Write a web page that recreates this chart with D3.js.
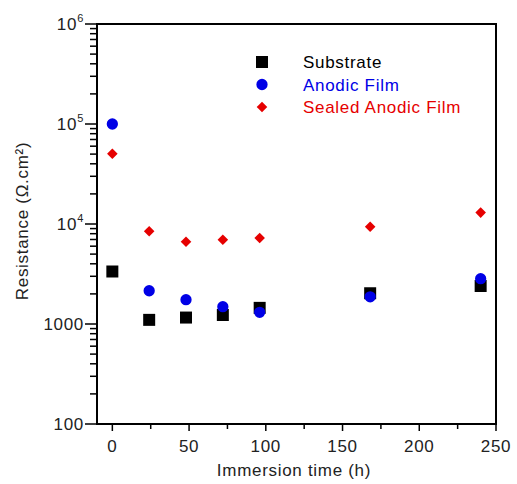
<!DOCTYPE html>
<html lang="en">
<head>
<meta charset="UTF-8">
<title>Resistance vs immersion time</title>
<style>
  body { margin: 0; background: #fff; }
  text { font-family: "Liberation Sans", Arial, sans-serif; letter-spacing: 0.7px; }
</style>
</head>
<body>
<svg id="chart" width="517" height="484"></svg>
<script src="https://cdn.jsdelivr.net/npm/d3@7"></script>
<script>
/* global d3 */

// data
var hours = [0, 24, 48, 72, 96, 168, 240];
var substrate = [3350, 1100, 1160, 1230, 1450, 2030, 2400];
var anodicFilm = [100000, 2150, 1750, 1490, 1310, 1870, 2840];
var sealedFilm = [50500, 8450, 6650, 6970, 7250, 9400, 13000];

var xTicks = [0, 50, 100, 150, 200, 250];
var xMinorTicks = [25, 75, 125, 175, 225];
var yTicks = [100, 1000, 1e4, 1e5, 1e6];
var yTickLabels = [["100", ""], ["1000", ""], ["10", "4"], ["10", "5"], ["10", "6"]];

var series = [
  { name: "Substrate", values: substrate, color: "#000000", text: "#000000", shape: "square" },
  { name: "Anodic Film", values: anodicFilm, color: "#0000e6", text: "#0000e6", shape: "circle" },
  { name: "Sealed Anodic Film", values: sealedFilm, color: "#e60000", text: "#e60000", shape: "diamond" }
];

var svg = d3.select("#chart");
var margin = { left: 97, right: 21, top: 24, bottom: 60 };
var width = 517, height = 484;

var x = d3.scaleLinear().domain([-10, 250]).range([margin.left, width - margin.right]);
var y = d3.scaleLog().domain([100, 1e6]).range([height - margin.bottom, margin.top]);

// frame
svg.append("rect")
  .attr("x", x.range()[0]).attr("y", y.range()[1])
  .attr("width", x.range()[1] - x.range()[0])
  .attr("height", y.range()[0] - y.range()[1])
  .attr("fill", "none").attr("stroke", "#000").attr("stroke-width", 2);

// x axis
var xAxis = svg.append("g").attr("transform", "translate(0," + y.range()[0] + ")");
xAxis.selectAll("line.major").data(xTicks).enter().append("line")
  .attr("x1", d => x(d)).attr("x2", d => x(d))
  .attr("y1", 0).attr("y2", 7)
  .attr("stroke", "#000").attr("stroke-width", 1.5);
xAxis.selectAll("line.minor").data(xMinorTicks).enter().append("line")
  .attr("x1", d => x(d)).attr("x2", d => x(d))
  .attr("y1", 0).attr("y2", 5)
  .attr("stroke", "#000").attr("stroke-width", 1.5);
xAxis.selectAll("text").data(xTicks).enter().append("text")
  .attr("x", d => x(d)).attr("y", 28)
  .attr("text-anchor", "middle").attr("font-size", 17).attr("fill", "#222")
  .text(d => d);

svg.append("text")
  .attr("x", 294).attr("y", 476)
  .attr("text-anchor", "middle").attr("font-size", 17).attr("fill", "#222")
  .text("Immersion time (h)");

// y axis, log ticks
var yAxis = svg.append("g").attr("transform", "translate(" + x.range()[0] + ",0)");
var minor = [];
for (var e = 2; e < 6; e++) {
  for (var m = 2; m <= 9; m++) minor.push(m * Math.pow(10, e));
}
yAxis.selectAll("line.minor").data(minor).enter().append("line")
  .attr("x1", -7).attr("x2", 0)
  .attr("y1", d => y(d)).attr("y2", d => y(d))
  .attr("stroke", "#000").attr("stroke-width", 1.5);
yAxis.selectAll("line.major").data(yTicks).enter().append("line")
  .attr("x1", -12).attr("x2", 0)
  .attr("y1", d => y(d)).attr("y2", d => y(d))
  .attr("stroke", "#000").attr("stroke-width", 1.5);

var yLab = yAxis.selectAll("text").data(yTicks).enter().append("text")
  .attr("x", -13).attr("y", d => y(d) + 6)
  .attr("text-anchor", "end").attr("font-size", 17).attr("fill", "#222");
yLab.append("tspan").text((d, i) => yTickLabels[i][0]);
yLab.append("tspan").attr("dy", -8).attr("font-size", 11)
  .text((d, i) => yTickLabels[i][1]);

svg.append("text")
  .attr("transform", "translate(28,221) rotate(-90)")
  .attr("text-anchor", "middle").attr("font-size", 17).attr("fill", "#222")
  .text("Resistance (\u03A9.cm\u00B2)");

// markers
var symbols = {
  square: d3.symbol().type(d3.symbolSquare).size(144),
  circle: d3.symbol().type(d3.symbolCircle).size(100),
  diamond: d3.symbol().type(d3.symbolSquare).size(56)
};

function drawMarker(g, s, px, py) {
  var p = g.append("path").attr("d", symbols[s.shape]()).attr("fill", s.color);
  if (s.shape === "diamond") p.attr("transform", "translate(" + px + "," + py + ") rotate(45)");
  else p.attr("transform", "translate(" + px + "," + py + ")");
}

series.forEach(function(s) {
  var g = svg.append("g");
  hours.forEach(function(h, i) { drawMarker(g, s, x(h), y(s.values[i])); });
});

// legend
var legend = svg.append("g");
series.forEach(function(s, i) {
  var ly = 62 + i * 22.5;
  drawMarker(legend, s, 262, ly);
  legend.append("text")
    .attr("x", 303).attr("y", ly + 6)
    .attr("font-size", 17).attr("fill", s.text)
    .text(s.name);
});
</script>
</body>
</html>
